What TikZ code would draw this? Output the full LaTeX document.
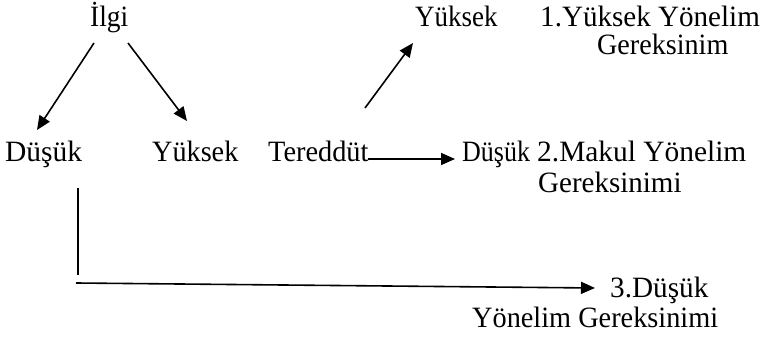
\documentclass[tikz,border=0pt]{standalone}
\usepackage{fontspec}
\setmainfont{Liberation Serif}
\usetikzlibrary{arrows.meta,calc}
\tikzset{
  lbl/.style={anchor=base west, inner sep=0pt, xscale=#1, font=\fontsize{29.5}{31}\selectfont},
  lbl/.default=1,
  arr/.style={line width=1.6pt, -{Triangle[length=14pt,width=12pt]}},
  ln/.style={line width=1.6pt}
}
\begin{document}
\begin{tikzpicture}[x=1pt,y=-1pt]
\useasboundingbox (0,0) rectangle (762,339);
\node[lbl=0.932] (ilgi) at (90,27) {İlgi};
\node[lbl=1.0] (dusuk1) at (5,162) {Düşük};
\node[lbl=0.956] (yuksek1) at (152,162) {Yüksek};
\node[lbl=0.96] (tered) at (268,162) {Tereddüt};
\node[lbl=0.881] (dusuk2) at (462,162) {Düşük};
\node[lbl=0.997] (makul) at (537,162) {2.Makul Yönelim};
\node[lbl=0.983] (makulb) at (538,193) {Gereksinimi};
\node[lbl=0.915] (yuksek2) at (415,27) {Yüksek};
\node[lbl=0.986] (yuk1) at (540,27) {1.Yüksek Yönelim};
\node[lbl=0.953] (yuk1b) at (597,55) {Gereksinim};
\node[lbl=0.99] (dus3) at (610,297) {3.Düşük};
\node[lbl=0.959] (dus3b) at (472,327) {Yönelim Gereksinimi};

\draw[arr] ($(ilgi.base west)+(4,16)$) -- ($(dusuk1.base west)+(32,-32)$);
\draw[arr] ($(ilgi.base west)+(38,16)$) -- ($(yuksek1.base west)+(35,-41)$);
\draw[arr] ($(tered.base west)+(97,-54)$) -- ($(yuksek2.base west)+(-2,16)$);
\draw[arr] ($(tered.base west)+(100,-3)$) -- ($(dusuk2.base west)+(-7,-3)$);
\draw[ln] ($(dusuk1.base west)+(73,26)$) -- ($(dusuk1.base west)+(73,113)$);
\draw[arr] ($(dusuk1.base west)+(71,121)$) -- ($(dus3.base west)+(-15,-9)$);
\end{tikzpicture}
\end{document}
